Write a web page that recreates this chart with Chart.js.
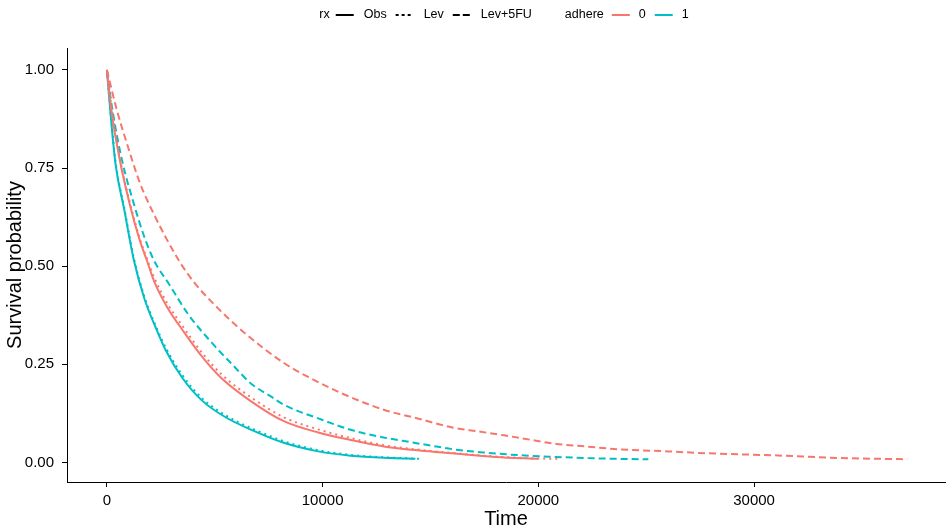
<!DOCTYPE html>
<html>
<head>
<meta charset="utf-8">
<script src="https://cdn.jsdelivr.net/npm/chart.js@4"></script>
<style>
  html, body { margin: 0; padding: 0; background: #fff; }
  #wrap { width: 948px; height: 528px; position: relative; }
</style>
</head>
<body>
<div id="wrap"><canvas id="surv"></canvas></div>
<script>
// Survival curves (time, survival probability)
const obs0Time = [0, 200, 600, 1050, 1500, 1850, 2200, 2800, 3600, 4400, 5300, 6700, 8200, 9800, 11300, 12900, 14500, 16000, 18000, 20000];
const obs0Surv = [1, 0.9, 0.77, 0.66, 0.57, 0.515, 0.46, 0.395, 0.33, 0.27, 0.215, 0.155, 0.105, 0.076, 0.057, 0.04, 0.03, 0.023, 0.014, 0.009];

const lev0Time = [0, 200, 600, 1050, 1500, 1850, 2200, 2800, 3600, 4400, 5300, 6700, 8200, 9800, 11300, 12900, 14500, 16000, 18000, 20000, 21000];
const lev0Surv = [1, 0.91, 0.775, 0.665, 0.575, 0.52, 0.47, 0.405, 0.34, 0.28, 0.225, 0.165, 0.115, 0.084, 0.062, 0.043, 0.032, 0.024, 0.015, 0.01, 0.009];

const fu0Time = [0, 460, 1000, 1530, 2200, 3330, 4070, 5200, 6400, 8240, 9350, 11300, 12900, 14400, 16000, 17200, 18400, 19600, 20700, 22300, 23800, 26000, 27900, 30900, 34000, 37100];
const fu0Surv = [1, 0.898, 0.8, 0.712, 0.63, 0.515, 0.457, 0.39, 0.329, 0.252, 0.217, 0.166, 0.133, 0.112, 0.089, 0.079, 0.069, 0.058, 0.048, 0.04, 0.033, 0.028, 0.023, 0.018, 0.011, 0.008];

const obs1Time = [0, 150, 400, 800, 1250, 1750, 2250, 2750, 3500, 4400, 5500, 6700, 8200, 9800, 11300, 13200, 14300];
const obs1Surv = [1, 0.9, 0.76, 0.645, 0.515, 0.415, 0.345, 0.283, 0.215, 0.158, 0.115, 0.083, 0.05, 0.028, 0.017, 0.011, 0.009];

const lev1Time = [0, 150, 400, 800, 1250, 1750, 2250, 2750, 3500, 4400, 5500, 6700, 8200, 9800, 11300, 13200, 14600];
const lev1Surv = [1, 0.905, 0.765, 0.65, 0.52, 0.42, 0.35, 0.29, 0.222, 0.164, 0.12, 0.087, 0.054, 0.031, 0.019, 0.012, 0.009];

const fu1Time = [0, 250, 700, 1270, 1700, 2180, 2870, 3800, 4860, 5800, 6700, 7600, 8200, 9800, 11300, 12500, 13700, 15000, 16100, 17500, 19200, 20800, 22300, 23700, 25100];
const fu1Surv = [1, 0.9, 0.77, 0.655, 0.58, 0.515, 0.455, 0.375, 0.305, 0.25, 0.2, 0.168, 0.147, 0.112, 0.083, 0.067, 0.055, 0.043, 0.033, 0.025, 0.018, 0.014, 0.011, 0.009, 0.008];

const xTicks = [0, 10000, 20000, 30000];
const yTicks = [0, 0.25, 0.5, 0.75, 1];

const RED = "#F8766D";
const TEAL = "#00BFC4";
const DOTTED = [2, 4];
const DASHED = [7, 4];
const FONT = '"Liberation Sans", Arial, sans-serif';

function pts(times, surv) {
  return times.map((t, i) => ({ x: t, y: surv[i] }));
}

function series(label, times, surv, color, dash) {
  return {
    label: label,
    data: pts(times, surv),
    borderColor: color,
    borderWidth: 2,
    borderDash: dash,
    pointRadius: 0,
    fill: false,
    cubicInterpolationMode: "monotone",
  };
}

// legend drawn on top of the canvas, two groups like ggplot
const topLegend = {
  id: "topLegend",
  afterDraw(chart) {
    const ctx = chart.ctx;
    ctx.save();
    ctx.font = "12.5px " + FONT;
    ctx.textBaseline = "middle";
    const items = [
      { text: "rx", gap: 6 },
      { line: "#000", dash: [], gap: 10 },
      { text: "Obs", gap: 9 },
      { line: "#000", dash: [3, 3], gap: 10 },
      { text: "Lev", gap: 9 },
      { line: "#000", dash: [7, 3], gap: 10 },
      { text: "Lev+5FU", gap: 33 },
      { text: "adhere", gap: 8 },
      { line: RED, dash: [], gap: 9 },
      { text: "0", gap: 9 },
      { line: TEAL, dash: [], gap: 9 },
      { text: "1", gap: 0 },
    ];
    let total = 0;
    for (const it of items) {
      it.w = it.text !== undefined ? ctx.measureText(it.text).width : 18;
      total += it.w + it.gap;
    }
    let x = 504 - total / 2;
    const y = 15;
    for (const it of items) {
      if (it.text !== undefined) {
        ctx.fillStyle = "#000";
        ctx.fillText(it.text, x, y);
      } else {
        ctx.strokeStyle = it.line;
        ctx.lineWidth = 2;
        ctx.setLineDash(it.dash);
        ctx.beginPath();
        ctx.moveTo(x, y);
        ctx.lineTo(x + it.w, y);
        ctx.stroke();
        ctx.setLineDash([]);
      }
      x += it.w + it.gap;
    }
    ctx.restore();
  },
};

new Chart(document.getElementById("surv"), {
  type: "line",
  data: {
    datasets: [
      series("Obs, 0", obs0Time, obs0Surv, RED, []),
      series("Lev, 0", lev0Time, lev0Surv, RED, DOTTED),
      series("Lev+5FU, 0", fu0Time, fu0Surv, RED, DASHED),
      series("Obs, 1", obs1Time, obs1Surv, TEAL, []),
      series("Lev, 1", lev1Time, lev1Surv, TEAL, DOTTED),
      series("Lev+5FU, 1", fu1Time, fu1Surv, TEAL, DASHED),
    ],
  },
  options: {
    responsive: true,
    maintainAspectRatio: false,
    animation: false,
    layout: { padding: { top: 48, right: 3, left: 0, bottom: 0 } },
    plugins: {
      legend: { display: false },
      tooltip: { enabled: false },
    },
    scales: {
      x: {
        type: "linear",
        min: -1850,
        max: 38850,
        afterBuildTicks(scale) {
          scale.ticks = xTicks.map((v) => ({ value: v }));
        },
        afterFit(scale) {
          scale.height = 46;
        },
        grid: { drawOnChartArea: false, color: "#000", tickLength: 5, tickWidth: 1 },
        border: { color: "#000", width: 1 },
        ticks: {
          color: "#000",
          font: { family: FONT, size: 15 },
          padding: 5,
          maxRotation: 0,
          callback: (v) => String(v),
        },
        title: {
          display: true,
          text: "Time",
          color: "#000",
          font: { family: FONT, size: 20, lineHeight: 0.9 },
          padding: { top: 0, bottom: 0 },
        },
      },
      y: {
        type: "linear",
        min: -0.05,
        max: 1.056,
        afterBuildTicks(scale) {
          scale.ticks = yTicks.map((v) => ({ value: v }));
        },
        afterFit(scale) {
          scale.width = 67;
        },
        grid: { drawOnChartArea: false, color: "#000", tickLength: 5, tickWidth: 1 },
        border: { color: "#000", width: 1 },
        ticks: {
          color: "#000",
          font: { family: FONT, size: 15 },
          padding: 8,
          callback: (v) => v.toFixed(2),
        },
        title: {
          display: true,
          text: "Survival probability",
          color: "#000",
          font: { family: FONT, size: 20, lineHeight: 1.2 },
          padding: { top: 3, bottom: 0 },
        },
      },
    },
  },
  plugins: [topLegend],
});
</script>
</body>
</html>
